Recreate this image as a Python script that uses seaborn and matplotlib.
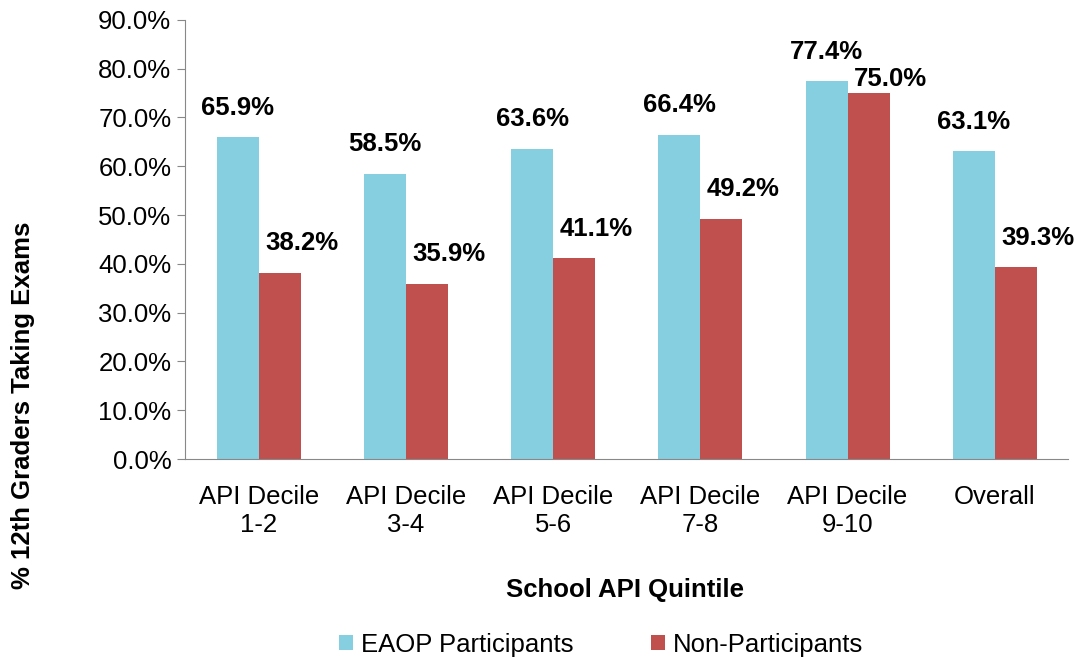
import pandas as pd
import matplotlib.pyplot as plt
import seaborn as sns
import numpy as np

categories = ["API Decile\n1-2", "API Decile\n3-4", "API Decile\n5-6",
              "API Decile\n7-8", "API Decile\n9-10", "Overall"]
eaop = [65.9, 58.5, 63.6, 66.4, 77.4, 63.1]
non_part = [38.2, 35.9, 41.1, 49.2, 75.0, 39.3]
series = ["EAOP Participants", "Non-Participants"]
colors = ["#86CFE0", "#C0504D"]

# label lift above each bar (data units); the 75.0% label sits low to clear 77.4%
label_lift = [[3.6] * 6, [3.6, 3.6, 3.6, 3.6, 0.4, 3.6]]

df = pd.DataFrame({
    "category": categories * 2,
    "value": eaop + non_part,
    "group": [series[0]] * len(categories) + [series[1]] * len(categories),
})

sns.set_style("white")
plt.rcParams['font.family'] = ['Liberation Sans', 'DejaVu Sans']
plt.rcParams['text.color'] = 'black'
plt.rcParams['xtick.color'] = 'black'
plt.rcParams['ytick.color'] = 'black'

fig = plt.figure(figsize=(10.77, 6.6), dpi=100)
ax = fig.add_axes([0.172, 0.3045, 0.82, 0.6655])

sns.barplot(data=df, x="category", y="value", hue="group", palette=colors,
            width=0.57, saturation=1, linewidth=0, ax=ax, legend=True)

# data labels
for i, cont in enumerate(ax.containers):
    for j, (bar, v) in enumerate(zip(cont, eaop if i == 0 else non_part)):
        x = bar.get_x() + bar.get_width() / 2 + (0.15 if i == 1 else 0.0)
        ax.text(x, v + label_lift[i][j], f"{v:.1f}%", ha="center", va="bottom",
                fontsize=18.5, fontweight="bold")

ax.set_ylim(0, 90)
ax.set_xlim(-0.5, len(categories) - 0.5)
ax.set_yticks(np.arange(0, 91, 10))
ax.set_yticklabels([f"{t:.1f}%" for t in np.arange(0, 91, 10)], fontsize=18.5)
ax.tick_params(axis="x", which="major", length=0, labelsize=18.5, pad=19)
ax.set_xticks(np.arange(-0.5, len(categories)), minor=True)
ax.tick_params(axis="x", which="minor", length=6, color="#888888", direction="out")
ax.tick_params(axis="y", length=6, color="#888888", direction="out", left=True, pad=4)
for s in ["top", "right"]:
    ax.spines[s].set_visible(False)
for s in ["left", "bottom"]:
    ax.spines[s].set_color("#888888")

ax.set_xlabel("")
ax.set_ylabel("")
fig.text(0.58, 0.106, "School API Quintile", ha="center", va="center",
         fontsize=18.5, fontweight="bold")
fig.text(0.021, 0.386, "% 12th Graders Taking Exams", ha="center", va="center",
         rotation=90, fontsize=18.5, fontweight="bold")

ax.legend_.remove()
handles, labels = ax.get_legend_handles_labels()
fig.legend(handles, labels, loc="center", bbox_to_anchor=(0.558, 0.023), ncol=2,
           frameon=False, fontsize=18.5, handlelength=0.55, handleheight=0.55,
           columnspacing=3.0, handletextpad=0.3)

fig.savefig("out.png", dpi=100)
